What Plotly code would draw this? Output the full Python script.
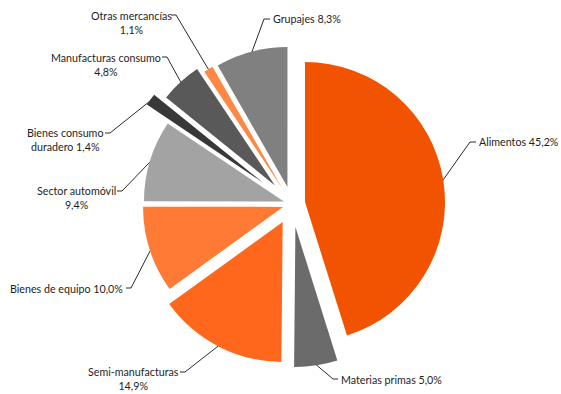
import math
import plotly.graph_objects as go

# ---------------- data ----------------
categories = ["Alimentos", "Materias primas", "Semi-manufacturas", "Bienes de equipo",
              "Sector automóvil", "Bienes consumo duradero", "Manufacturas consumo",
              "Otras mercancías", "Grupajes"]
values = [45.2, 5.0, 14.9, 10.0, 9.4, 1.4, 4.8, 1.1, 8.3]
label_texts = ["Alimentos 45,2%", "Materias primas 5,0%", "Semi-manufacturas<br>14,9%",
               "Bienes de equipo 10,0%", "Sector automóvil<br>9,4%",
               "Bienes consumo<br>duradero 1,4%", "Manufacturas consumo<br>4,8%",
               "Otras mercancías<br>1,1%", "Grupajes 8,3%"]

# ---------------- style ----------------
colors = ["#F25300", "#6B6B6B", "#FF681C", "#FF7A35", "#A3A3A3",
          "#383838", "#595959", "#FF8845", "#808080"]
pulls = [0.094, 0.166, 0.145, 0.067, 0.06, 0.257, 0.18, 0.133, 0.126]

W, H = 561, 394
CX, CY, R = 292, 204, 140          # pie centre / radius in pixels
FONT = "Lato"
FS = 10.7

# label layout: (text x, text y, xanchor, leader end x, leader end y, elbow dx)
label_layout = [
    (477, 141, "left", 476, 142, -6),
    (339, 379, "left", 338, 379, -5),
    (133, 378, "center", 180, 372, 5),
    (125, 288, "right", 126, 288, 5),
    (76, 198, "center", 117, 191, 5),
    (65, 140, "center", 105, 133, 5),
    (106, 64, "center", 162, 57, 5),
    (131, 22, "center", 171, 15, 5),
    (271, 18, "left", 270, 19, -6),
]

maxp = max(pulls)
half = R * (1 + maxp)
dom_x = [(CX - half) / W, (CX + half) / W]
dom_y = [1 - (CY + half) / H, 1 - (CY - half) / H]

fig = go.Figure()
fig.add_trace(go.Pie(
    labels=categories, values=values, sort=False, direction="clockwise",
    rotation=0, pull=pulls, textinfo="none", hoverinfo="label+percent",
    marker=dict(colors=colors, line=dict(width=0)),
    domain=dict(x=dom_x, y=dom_y), showlegend=False,
))

# leader lines computed from slice mid-angles
total = sum(values)
cum = 0.0
lx, ly = [], []
annotations = []
for v, p, txt, lay in zip(values, pulls, label_texts, label_layout):
    th = 2 * math.pi * (cum + v / 2) / total
    cum += v
    dist = R * (1 + p) - 1
    ax_ = CX + dist * math.sin(th)
    ay_ = CY - dist * math.cos(th)
    tx, ty, anc, ex, ey, edx = lay
    lx += [ax_, ex + edx, ex, None]
    ly += [ay_, ey, ey, None]
    annotations.append(dict(
        x=tx / W, y=1 - ty / H, xref="paper", yref="paper", text=txt,
        showarrow=False, xanchor=anc, yanchor="middle", align="center",
        font=dict(family=FONT, size=FS, color="#1E1E1E"),
    ))

fig.add_trace(go.Scatter(x=lx, y=ly, mode="lines", line=dict(color="#2A2A2A", width=1),
                         hoverinfo="skip", showlegend=False))

fig.update_layout(
    width=W, height=H, margin=dict(l=0, r=0, t=0, b=0),
    paper_bgcolor="white", plot_bgcolor="rgba(0,0,0,0)",
    xaxis=dict(range=[0, W], visible=False, domain=[0, 1], fixedrange=True),
    yaxis=dict(range=[H, 0], visible=False, domain=[0, 1], fixedrange=True),
    annotations=annotations,
    font=dict(family=FONT, size=FS),
)
fig.write_html("out.html", config={"displayModeBar": False},
               post_script="document.body.style.margin='0';document.body.style.overflow='hidden';")
